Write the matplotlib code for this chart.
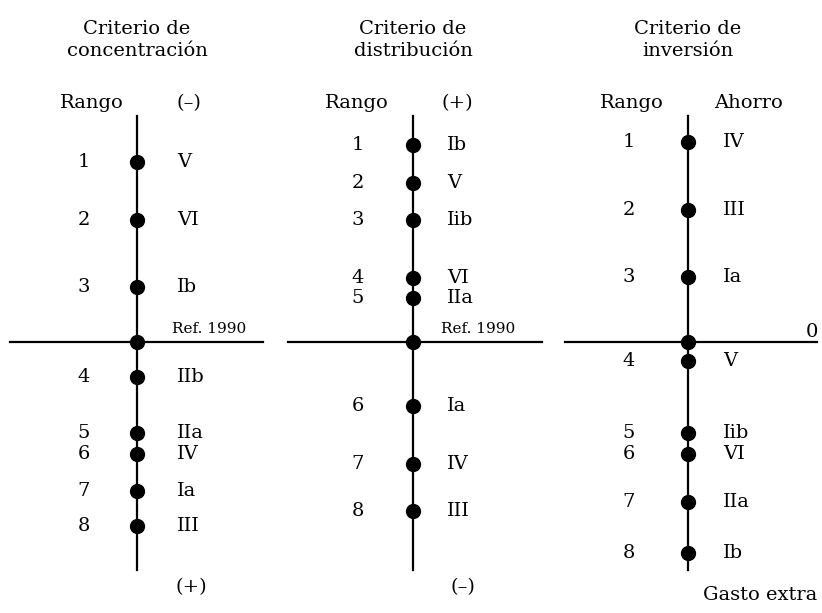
import matplotlib.pyplot as plt

# scores relative to the 1990 reference line (0), higher = nearer the top
conc_vals = [18.0, 12.2, 5.5, -3.5, -9.1, -11.2, -14.9, -18.4]
conc_labels = ['V', 'VI', 'Ib', 'IIb', 'IIa', 'IV', 'Ia', 'III']

dist_vals = [19.7, 15.9, 12.2, 6.4, 4.4, -6.4, -12.2, -16.9]
dist_labels = ['Ib', 'V', 'Iib', 'VI', 'IIa', 'Ia', 'IV', 'III']

inv_vals = [20.0, 13.2, 6.5, -1.9, -9.1, -11.2, -16.0, -21.1]
inv_labels = ['IV', 'III', 'Ia', 'V', 'Iib', 'VI', 'IIa', 'Ib']

ranks = [1, 2, 3, 4, 5, 6, 7, 8]

titles = ['Criterio de\nconcentración', 'Criterio de\ndistribución', 'Criterio de\ninversión']
top_right = ['(–)', '(+)', 'Ahorro']
bottom_right = ['(+)', '(–)', 'Gasto extra']

plt.rcParams['font.family'] = ['DejaVu Serif']

fig = plt.figure(figsize=(8.22, 6.13), dpi=100)
ax = fig.add_axes([0, 0, 1, 1])
ax.set_xlim(0, 822)
ax.set_ylim(-27.1, 34.2)
ax.axis('off')

panels = [
    # center, values, labels, rank dx, label dx, rango dx, topright dx, bottom dx, hline
    dict(cx=137, vals=conc_vals, labs=conc_labels, rdx=-53, ldx=40, gdx=-45, tdx=52, bdx=54,
         h=(-127, 126), ref='Ref. 1990', refdx=72),
    dict(cx=413, vals=dist_vals, labs=dist_labels, rdx=-55, ldx=34, gdx=-56, tdx=44, bdx=50,
         h=(-125, 129), ref='Ref. 1990', refdx=65),
    dict(cx=688, vals=inv_vals, labs=inv_labels, rdx=-59, ldx=35, gdx=-56, tdx=60, bdx=72,
         h=(-123, 129), ref=None, refdx=0),
]

fs = 14
for i, p in enumerate(panels):
    cx = p['cx']
    # axes lines
    ax.plot([cx, cx], [22.6, -22.8], color='black', lw=1.6, zorder=1)
    ax.plot([cx + p['h'][0], cx + p['h'][1]], [0, 0], color='black', lw=1.6, zorder=1)
    # reference dot + ranked dots
    ax.plot([cx], [0], 'o', color='black', ms=10, zorder=2)
    ax.plot([cx] * len(p['vals']), p['vals'], 'o', color='black', ms=10, zorder=2)
    for r, v, lab in zip(ranks, p['vals'], p['labs']):
        ax.text(cx + p['rdx'], v, str(r), ha='center', va='center', fontsize=fs)
        ax.text(cx + p['ldx'], v, lab, ha='left', va='center', fontsize=fs)
    # headers
    ax.text(cx, 30.2, titles[i], ha='center', va='center', fontsize=fs, linespacing=1.3)
    ax.text(cx + p['gdx'], 23.9, 'Rango', ha='center', va='center', fontsize=fs)
    ax.text(cx + p['tdx'], 23.9, top_right[i], ha='center', va='center', fontsize=fs)
    ax.text(cx + p['bdx'], -24.5 if i < 2 else -25.3, bottom_right[i],
            ha='center', va='center', fontsize=fs)
    if p['ref']:
        ax.text(cx + p['refdx'], 1.3, p['ref'], ha='center', va='center', fontsize=11)

ax.text(812, 1.0, '0', ha='center', va='center', fontsize=fs)

fig.savefig('out.png', dpi=100)
